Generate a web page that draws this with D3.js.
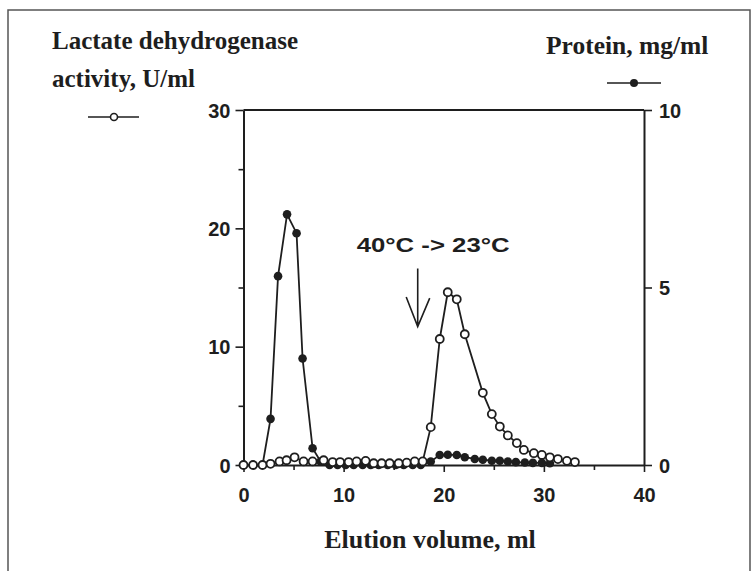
<!DOCTYPE html>
<html>
<head>
<meta charset="utf-8">
<script src="https://cdn.jsdelivr.net/npm/d3@7"></script>
<style>
  body { margin: 0; background: #fff; }
  svg { display: block; }
  .serif { font-family: "Liberation Serif", "Times New Roman", serif; font-weight: bold; fill: #1e1e1e; }
  .sans { font-family: "Liberation Sans", Arial, sans-serif; font-weight: bold; fill: #1e1e1e; }
</style>
</head>
<body>
<div id="chart"></div>
<script>
// Lactate dehydrogenase activity (U/ml), open circles, left axis
const ldhVolume = [0, 0.96, 1.9, 2.7, 3.6, 4.3, 5.1, 6.0, 6.9, 8.0, 8.9, 9.65, 10.5, 11.3, 12.2, 13.0, 13.8,
                   14.6, 15.5, 16.3, 17.1, 17.9, 18.7, 19.6, 20.4, 21.3, 22.1, 23.9, 24.8, 25.6, 26.4, 27.3,
                   28.0, 29.0, 29.8, 30.6, 31.4, 32.3, 33.1];
const ldhActivity = [0, 0, 0, 0.1, 0.3, 0.4, 0.65, 0.3, 0.3, 0.4, 0.25, 0.25, 0.25, 0.3, 0.35, 0.15, 0.15,
                     0.15, 0.15, 0.2, 0.3, 0.3, 3.2, 10.65, 14.6, 14.0, 11.05, 6.1, 4.3, 3.25, 2.5, 1.85,
                     1.27, 1.0, 0.85, 0.65, 0.5, 0.35, 0.25];

// Protein (mg/ml), filled circles, right axis
const protVolume = [0, 0.96, 1.9, 2.7, 3.45, 4.35, 5.3, 5.9, 6.9, 7.7, 8.6, 9.4, 10.2, 11.0, 11.9, 12.7, 13.5,
                    14.4, 15.2, 16.0, 16.9, 17.7, 18.7, 19.6, 20.4, 21.3, 22.1, 23.1, 23.9, 24.8, 25.6, 26.4,
                    27.2, 28.1, 28.9, 29.8, 30.6];
const protConc = [0, 0, 0, 1.3, 5.32, 7.06, 6.53, 3.0, 0.47, 0.1, 0, 0, 0, 0, 0, 0, 0,
                  0, 0, 0, 0, 0, 0.1, 0.28, 0.29, 0.28, 0.22, 0.17, 0.15, 0.12, 0.12, 0.1,
                  0.08, 0.07, 0.06, 0.06, 0.05];

const xTicks = [0, 5, 10, 15, 20, 25, 30, 35, 40];
const yLeftTicks = [0, 5, 10, 15, 20, 25, 30];
const yRightTicks = [0, 5, 10];

// annotation: arrow at the temperature shift (ml, LDH units)
const shiftVolume = 17.4;
const shiftLabel = "40°C -> 23°C";

const W = 756, H = 571;
const plot = {left: 243.5, right: 644, top: 110, bottom: 465};

const svg = d3.select("#chart").append("svg")
  .attr("width", W)
  .attr("height", H);

// outer frame of the scanned figure
svg.append("rect")
  .attr("x", 8).attr("y", 10)
  .attr("width", 742).attr("height", 620)
  .attr("fill", "none")
  .attr("stroke", "#555")
  .attr("stroke-width", 1.5);

let x = d3.scaleLinear().domain([0, 40]).range([plot.left, plot.right]);
let yL = d3.scaleLinear().domain([0, 30]).range([plot.bottom, plot.top]);
let yR = d3.scaleLinear().domain([0, 10]).range([plot.bottom, plot.top]);

// axes
let xAxis = svg.append("g")
  .attr("transform", `translate(0, ${plot.bottom})`)
  .call(d3.axisBottom(x).tickValues(xTicks).tickSize(7).tickSizeOuter(0).tickPadding(16)
        .tickFormat(d => d % 10 === 0 ? d : ""));
xAxis.selectAll(".tick line").filter(d => d % 10 !== 0).attr("y2", 5);

let leftAxis = svg.append("g")
  .attr("transform", `translate(${plot.left}, 0)`)
  .call(d3.axisLeft(yL).tickValues(yLeftTicks).tickSize(8).tickSizeOuter(0).tickPadding(5)
        .tickFormat(d => d % 10 === 0 ? d : ""));
leftAxis.selectAll(".tick line").filter(d => d % 10 !== 0).attr("x2", -5);

let rightAxis = svg.append("g")
  .attr("transform", `translate(${plot.right}, 0)`)
  .call(d3.axisRight(yR).tickValues(yRightTicks).tickSize(8).tickSizeOuter(0).tickPadding(7));

[xAxis, leftAxis, rightAxis].forEach(a => {
  a.select(".domain").attr("stroke", "#1e1e1e").attr("stroke-width", 2);
  a.selectAll(".tick line").attr("stroke", "#1e1e1e").attr("stroke-width", 1.6);
  a.selectAll(".tick text").attr("class", "sans").style("font-size", "20px");
});
leftAxis.selectAll(".tick text").attr("dy", "0.36em");
rightAxis.selectAll(".tick text").attr("dy", "0.36em");

// top line of the plot box
svg.append("line")
  .attr("x1", x(0)).attr("x2", x(40))
  .attr("y1", yL(30)).attr("y2", yL(30))
  .attr("stroke", "#1e1e1e").attr("stroke-width", 2);

// protein series (filled), drawn first
const protData = protVolume.map((v, i) => ({v: v, c: protConc[i]}));
svg.append("path")
  .datum(protData)
  .attr("fill", "none")
  .attr("stroke", "#1e1e1e")
  .attr("stroke-width", 1.8)
  .attr("d", d3.line().x(d => x(d.v)).y(d => yR(d.c)));
svg.selectAll(".protdot")
  .data(protData)
  .enter()
  .append("circle")
  .attr("class", "protdot")
  .attr("cx", d => x(d.v))
  .attr("cy", d => yR(d.c))
  .attr("r", 4.3)
  .attr("fill", "#1e1e1e");

// LDH series (open)
const ldhData = ldhVolume.map((v, i) => ({v: v, a: ldhActivity[i]}));
svg.append("path")
  .datum(ldhData)
  .attr("fill", "none")
  .attr("stroke", "#1e1e1e")
  .attr("stroke-width", 1.8)
  .attr("d", d3.line().x(d => x(d.v)).y(d => yL(d.a)));
svg.selectAll(".ldhdot")
  .data(ldhData)
  .enter()
  .append("circle")
  .attr("class", "ldhdot")
  .attr("cx", d => x(d.v))
  .attr("cy", d => yL(d.a))
  .attr("r", 4)
  .attr("fill", "white")
  .attr("stroke", "#1e1e1e")
  .attr("stroke-width", 1.8);

// temperature shift arrow + label
let ax = x(shiftVolume);
svg.append("path")
  .attr("d", `M${ax},${yL(16.6)} L${ax},${yL(11.7)} M${ax - 11.5},${yL(14.2)} L${ax},${yL(11.7)} L${ax + 12},${yL(14.1)}`)
  .attr("fill", "none")
  .attr("stroke", "#1e1e1e")
  .attr("stroke-width", 1.6);
svg.append("text")
  .attr("class", "sans")
  .attr("x", x(11.3))
  .attr("y", yL(18.0))
  .attr("textLength", 153)
  .attr("lengthAdjust", "spacingAndGlyphs")
  .style("font-size", "21px")
  .text(shiftLabel);

// axis titles / legends
svg.append("text").attr("class", "serif").attr("x", 52).attr("y", 48.5)
  .style("font-size", "25px").text("Lactate dehydrogenase");
svg.append("text").attr("class", "serif").attr("x", 52).attr("y", 86.5)
  .style("font-size", "25px").text("activity, U/ml");
svg.append("text").attr("class", "serif").attr("x", 546).attr("y", 54)
  .style("font-size", "25.5px").text("Protein, mg/ml");
svg.append("text").attr("class", "serif").attr("x", 430).attr("y", 548)
  .attr("text-anchor", "middle")
  .style("font-size", "26px").text("Elution volume, ml");

// legend symbols
let leg = svg.append("g");
leg.append("line").attr("x1", 88).attr("x2", 139).attr("y1", 117).attr("y2", 117)
  .attr("stroke", "#1e1e1e").attr("stroke-width", 1.6);
leg.append("circle").attr("cx", 114).attr("cy", 117).attr("r", 3.5)
  .attr("fill", "white").attr("stroke", "#1e1e1e").attr("stroke-width", 1.6);
leg.append("line").attr("x1", 607).attr("x2", 661).attr("y1", 83).attr("y2", 83)
  .attr("stroke", "#1e1e1e").attr("stroke-width", 1.6);
leg.append("circle").attr("cx", 634).attr("cy", 83).attr("r", 4).attr("fill", "#1e1e1e");
</script>
</body>
</html>
